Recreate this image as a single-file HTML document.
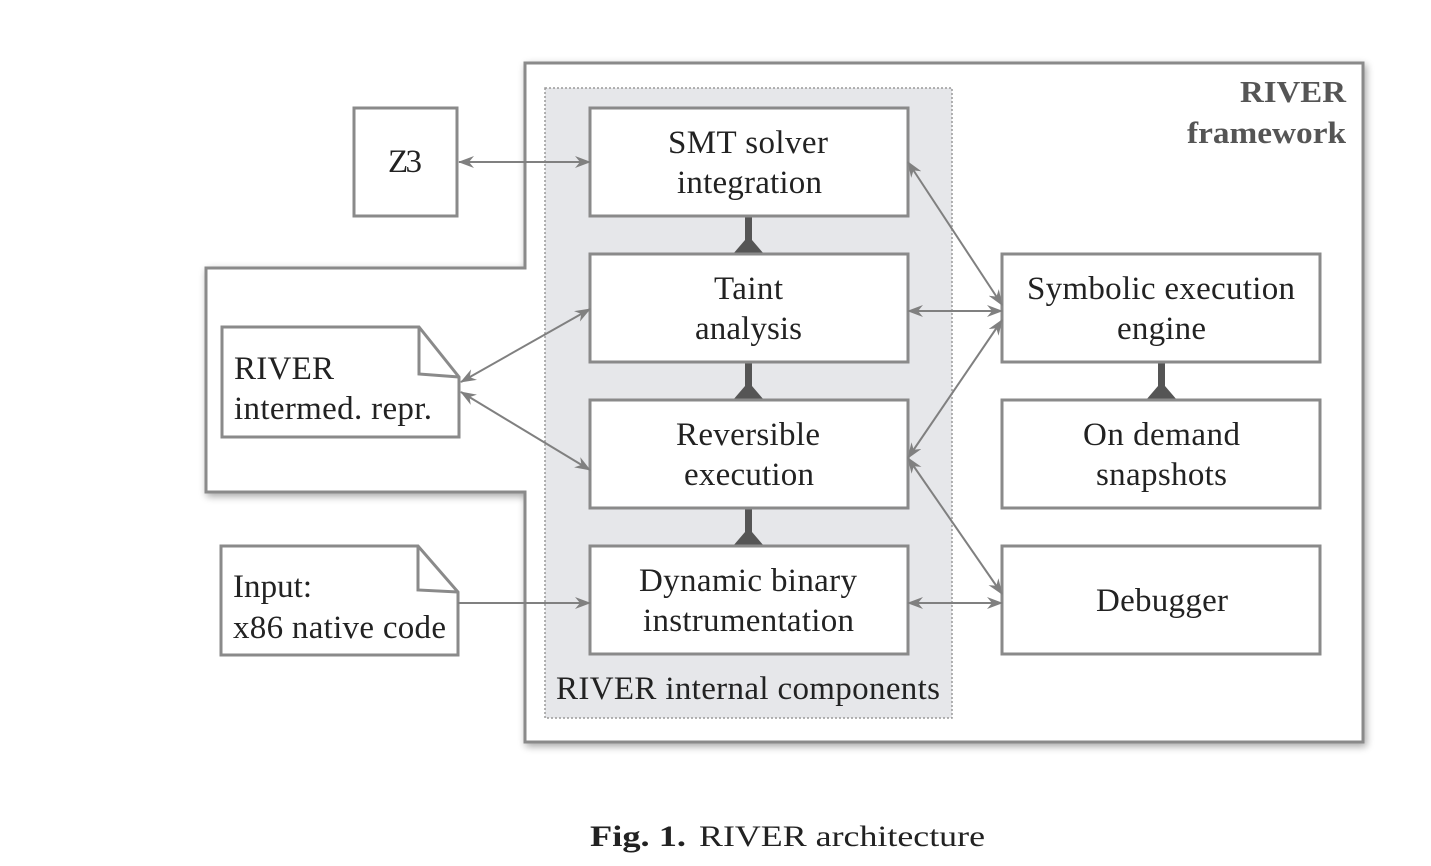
<!DOCTYPE html>
<html><head><meta charset="utf-8"><style>
html,body{margin:0;padding:0;background:#fff;}
svg{display:block;}
text{font-family:"Liberation Serif",serif;fill:#222;}
</style></head><body>
<svg width="1431" height="866" viewBox="0 0 1431 866" xmlns="http://www.w3.org/2000/svg">
<defs>
<filter id="sh" x="-5%" y="-5%" width="110%" height="110%">
<feGaussianBlur in="SourceAlpha" stdDeviation="4"/>
<feOffset dx="2" dy="3"/>
<feComponentTransfer><feFuncA type="linear" slope="0.35"/></feComponentTransfer>
<feMerge><feMergeNode/><feMergeNode in="SourceGraphic"/></feMerge>
</filter>
<marker id="ah" viewBox="0 0 16 12" refX="15" refY="6" markerWidth="16" markerHeight="12" markerUnits="userSpaceOnUse" orient="auto-start-reverse">
<path d="M0,0 L16,6 L0,12 L5,6 Z" fill="#808080"/>
</marker>
</defs>
<path d="M525,63 L1363,63 L1363,742 L525,742 L525,492 L206,492 L206,268 L525,268 Z" fill="#fff" stroke="#8a8a8a" stroke-width="3" filter="url(#sh)"/>
<rect x="545" y="88" width="407" height="630" fill="#e6e7ea" stroke="#9a9a9a" stroke-width="1.5" stroke-dasharray="2,2"/>
<text x="1240" y="102" font-size="31" font-weight="bold" textLength="106" lengthAdjust="spacingAndGlyphs" style="fill:#555">RIVER</text>
<text x="1187" y="143" font-size="31" font-weight="bold" textLength="159" lengthAdjust="spacingAndGlyphs" style="fill:#555">framework</text>
<g fill="#555">
<rect x="745" y="216" width="7" height="30"/><path d="M733,254 L764,254 L752,240 L745,240 Z"/>
<rect x="745" y="362" width="7" height="30"/><path d="M733,400 L764,400 L752,386 L745,386 Z"/>
<rect x="745" y="508" width="7" height="30"/><path d="M733,546 L764,546 L752,532 L745,532 Z"/>
<rect x="1158" y="362" width="7" height="30"/><path d="M1146,400 L1177,400 L1165,386 L1158,386 Z"/>
</g>
<g fill="#fff" stroke="#8a8a8a" stroke-width="3">
<rect x="590" y="108" width="318" height="108"/>
<rect x="590" y="254" width="318" height="108"/>
<rect x="590" y="400" width="318" height="108"/>
<rect x="590" y="546" width="318" height="108"/>
<rect x="1002" y="254" width="318" height="108"/>
<rect x="1002" y="400" width="318" height="108"/>
<rect x="1002" y="546" width="318" height="108"/>
<rect x="354" y="108" width="103" height="108"/>
<path d="M222,327 L419,327 L459,377 L459,437 L222,437 Z"/>
<path d="M419,327 L419,374 L459,377" fill="none"/>
<path d="M221,546 L418,546 L458,592 L458,655 L221,655 Z"/>
<path d="M418,546 L418,590 L458,592" fill="none"/>
</g>
<g stroke="#808080" stroke-width="2" fill="none" marker-start="url(#ah)" marker-end="url(#ah)">
<line x1="459" y1="162" x2="590" y2="162"/>
<line x1="461" y1="382" x2="590" y2="309"/>
<line x1="461" y1="392" x2="590" y2="470"/>
<line x1="908" y1="162" x2="1002" y2="305"/>
<line x1="908" y1="311" x2="1002" y2="311"/>
<line x1="908" y1="458" x2="1002" y2="320"/>
<line x1="908" y1="458" x2="1002" y2="594"/>
<line x1="908" y1="603" x2="1002" y2="603"/>
</g>
<line x1="458" y1="603" x2="590" y2="603" stroke="#808080" stroke-width="2" marker-end="url(#ah)"/>
<g font-size="33" lengthAdjust="spacingAndGlyphs">
<text x="668" y="153" textLength="160">SMT solver</text><text x="677" y="193" textLength="145">integration</text>
<text x="714" y="299" textLength="69">Taint</text><text x="695" y="339" textLength="107">analysis</text>
<text x="676" y="445" textLength="144">Reversible</text><text x="684" y="485" textLength="130">execution</text>
<text x="639" y="591" textLength="218">Dynamic binary</text><text x="643" y="631" textLength="211">instrumentation</text>
<text x="1027" y="299" textLength="268">Symbolic execution</text><text x="1117" y="339" textLength="89">engine</text>
<text x="1083" y="445" textLength="157">On demand</text><text x="1096" y="485" textLength="131">snapshots</text>
<text x="1096" y="611" textLength="132">Debugger</text>
<text x="388" y="172" textLength="34">Z3</text>
<text x="556" y="699" textLength="384">RIVER internal components</text>
<text x="234" y="379" textLength="100">RIVER</text><text x="234" y="419" textLength="198">intermed. repr.</text>
<text x="233" y="597" textLength="79">Input:</text><text x="233" y="638" textLength="213">x86 native code</text>
</g>
<text x="590" y="846" font-size="30" font-weight="bold" textLength="96" lengthAdjust="spacingAndGlyphs">Fig. 1.</text>
<text x="699" y="846" font-size="30" textLength="286" lengthAdjust="spacingAndGlyphs">RIVER architecture</text>
</svg>
</body></html>
